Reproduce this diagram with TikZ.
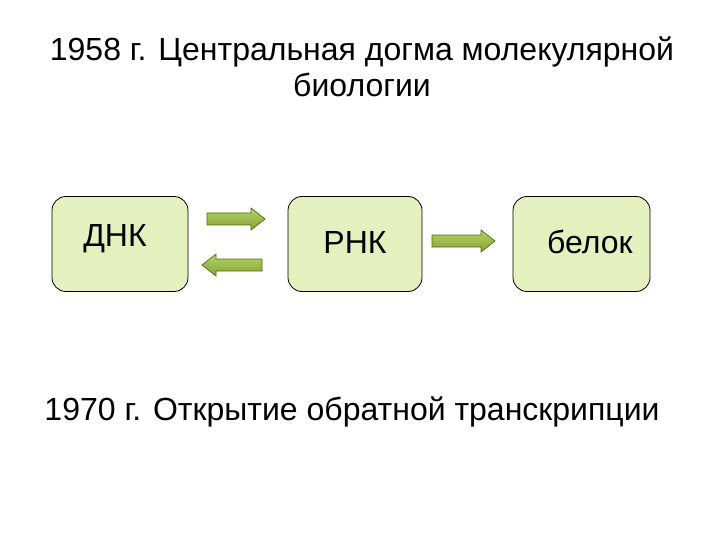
\documentclass[tikz,border=0pt]{standalone}
\usepackage{fontspec}
\setmainfont{Liberation Sans}
\definecolor{boxfill}{HTML}{E4F0BE}
\definecolor{arrfill}{HTML}{9DC23A}
\definecolor{arrline}{HTML}{4E6B12}
\tikzset{
  bx/.style={draw=black, line width=0.8pt, fill=boxfill, rounded corners=14pt, minimum width=136pt, minimum height=95pt},
  blk/.style={draw=arrline, line width=0.7pt, top color=arrfill!75!white, bottom color=arrfill!85!black},
  txt/.style={font=\fontsize{32}{36}\selectfont}
}
\newcommand{\rarrow}[3]{% cx cy halflength
  \draw[blk,shift={(#1,#2)}] (-#3,-6) -- (#3-14,-6) -- (#3-14,-11) -- (#3,0) -- (#3-14,11) -- (#3-14,6) -- (-#3,6) -- cycle;}
\newcommand{\larrow}[3]{%
  \draw[blk,shift={(#1,#2)}] (#3,-6) -- (-#3+14,-6) -- (-#3+14,-11) -- (-#3,0) -- (-#3+14,11) -- (-#3+14,6) -- (#3,6) -- cycle;}
\begin{document}
\begin{tikzpicture}[x=1pt,y=-1pt]
\useasboundingbox[fill=white] (0,0) rectangle (720,540);
\node[txt,align=center] (t) at (362,67) {1958 г. Центральная догма молекулярной\\[0pt]биологии};
\node[bx] (d) at (120,244) {};
\node[txt] (dt) at (115,239) {ДНК};
\node[bx,minimum width=134pt] (r) at (355,244) {};
\node[txt] (rt) at (355,242) {РНК};
\node[bx,minimum width=137pt] (b) at (581.5,244) {};
\node[txt] (bt) at (590,242) {белок};
\rarrow{236}{219}{29}
\larrow{232}{265}{30}
\rarrow{463.5}{241}{31.5}
\node[txt] (bot) at (352,412) {1970 г. Открытие обратной транскрипции};
\end{tikzpicture}
\end{document}
